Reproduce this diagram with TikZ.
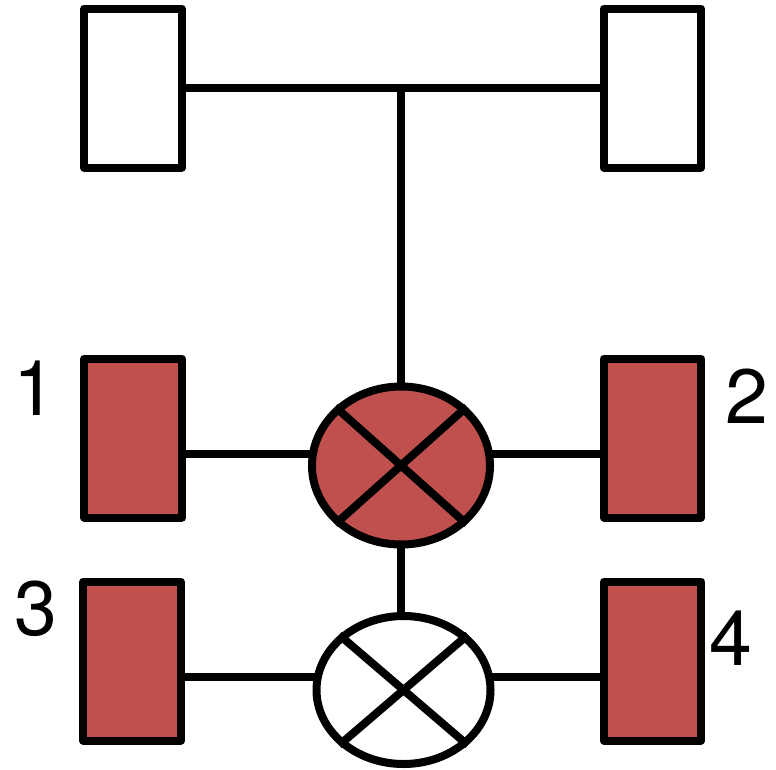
\documentclass[tikz,border=0pt]{standalone}
\usepackage{fontspec}
\setmainfont{TeX Gyre Heros}
\usetikzlibrary{shapes.geometric}
\definecolor{wheelred}{RGB}{192,80,77}
\tikzset{
 px/.style={x=1pt,y=-1pt},
 wheel/.style={draw=black,line width=8pt,rectangle,minimum width=97.5pt,minimum height=159pt,inner sep=0pt,line join=round},
 diff/.style={draw=black,line width=8pt,ellipse,inner sep=0pt},
 link/.style={draw=black,line width=8pt},
 num/.style={font=\fontsize{77}{77}\selectfont,inner sep=0pt,text=black}
}
\begin{document}
\begin{tikzpicture}[px]
\useasboundingbox (0,0) rectangle (776,769);
\coordinate (tee) at (401,88);
\coordinate (a1) at (133,453.5);
\coordinate (a2) at (652.5,453.5);
\coordinate (a3) at (133,676.5);
\coordinate (a4) at (652.5,676.5);
\draw[link] (133,88) -- (652,88);
\draw[link] (a1) -- (a2);
\draw[link] (a3) -- (a4);
\draw[link] (tee) -- (401,690);
\node[wheel,fill=white] (fl) at (133,88) {};
\node[wheel,fill=white] (fr) at (652.5,88) {};
\node[wheel,fill=wheelred] (w1) at (133,438) {};
\node[wheel,fill=wheelred] (w2) at (652.5,438) {};
\node[wheel,fill=wheelred] (w3) at (132,661) {};
\node[wheel,fill=wheelred] (w4) at (652.5,661) {};
\node[diff,fill=wheelred,minimum width=178pt,minimum height=158pt] (d1) at (401,465.5) {};
\node[diff,fill=white,minimum width=174pt,minimum height=148pt] (d2) at (403.5,690) {};
\draw[link] (d1.north west) -- (d1.south east);
\draw[link] (d1.north east) -- (d1.south west);
\draw[link] (d2.north west) -- (d2.south east);
\draw[link] (d2.north east) -- (d2.south west);
\node[num] (n1) at (35,388) {1};
\node[num] (n2) at (747,396) {2};
\node[num] (n3) at (36,609) {3};
\node[num] (n4) at (731,638) {4};
\end{tikzpicture}
\end{document}
